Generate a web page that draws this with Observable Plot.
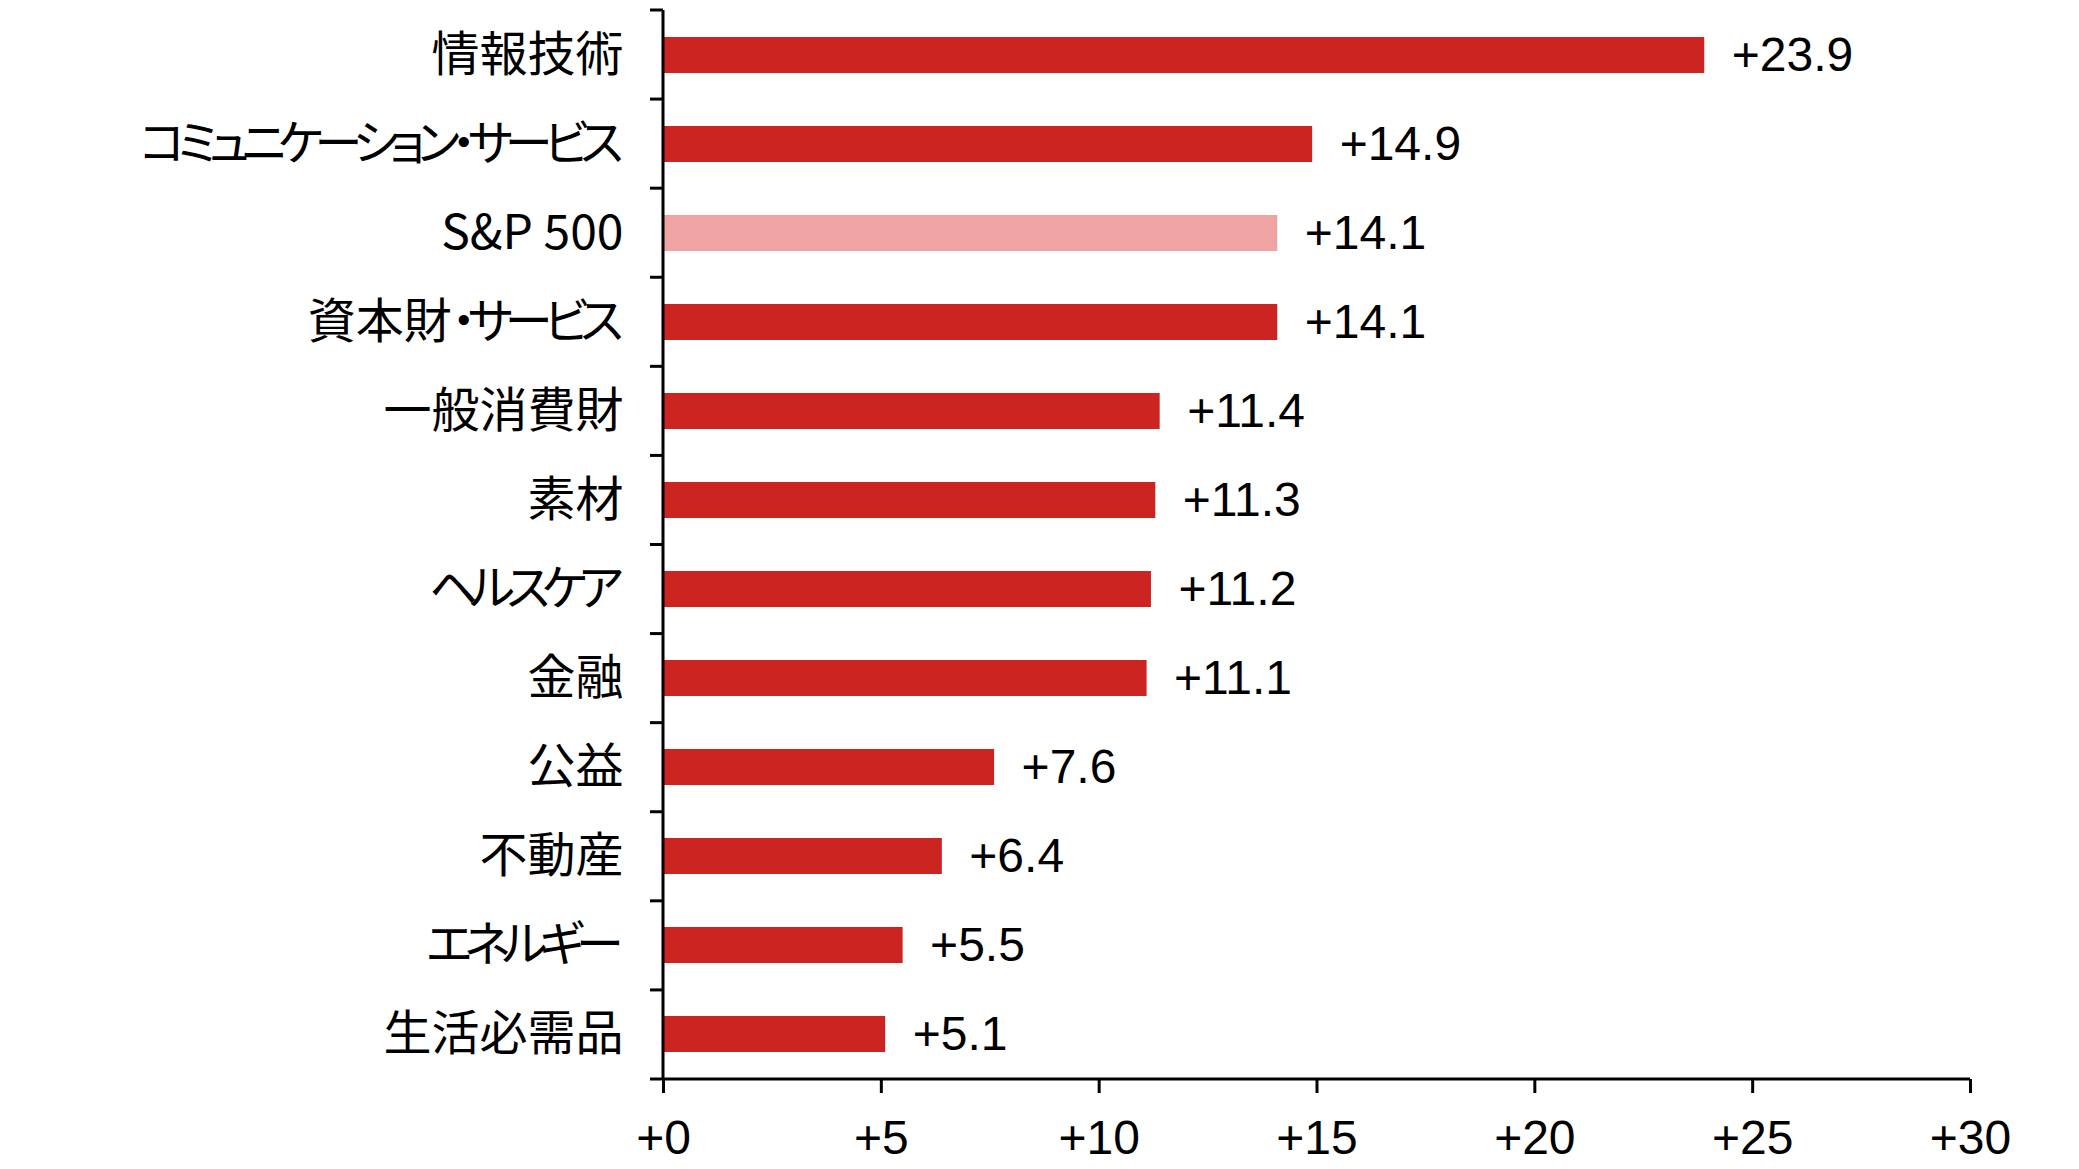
<!DOCTYPE html>
<html><head><meta charset="utf-8">
<script src="https://cdn.jsdelivr.net/npm/d3@7"></script>
<script src="https://cdn.jsdelivr.net/npm/@observablehq/plot@0.6"></script>
<style>
html,body{margin:0;padding:0;background:#fff;}
svg{display:block;}
.ylab text{font-feature-settings:"palt" 1;}
.ylab tspan.kana{letter-spacing:-8px;}
</style>
</head><body>
<div id="chart"></div>
<script>
const categories = ["情報技術","コミュニケーション・サービス","S&P 500","資本財・サービス","一般消費財","素材","ヘルスケア","金融","公益","不動産","エネルギー","生活必需品"];
const values = [23.9,14.9,14.1,14.1,11.4,11.3,11.2,11.1,7.6,6.4,5.5,5.1];
const highlight = ["S&P 500"];
const xTicks = [0,5,10,15,20,25,30];

const data = categories.map((c,i)=>({cat:c, value:values[i], hl: highlight.includes(c)}));
const fmt = v => "+" + v;

const boundaryTicks = (index, scales, values, dims) => {
  const g = d3.create("svg:g").attr("stroke","#000").attr("stroke-width",3).attr("fill","none");
  const top = dims.marginTop, bottom = dims.height - dims.marginBottom;
  const n = categories.length;
  const step = (bottom - top) / n;
  const x0 = scales.x(0);
  for (let i = 0; i < n; i++) {
    const y = top + i*step;
    g.append("line").attr("x1", x0-13).attr("x2", x0).attr("y1", y).attr("y2", y);
  }
  g.append("line").attr("x1", x0).attr("x2", x0).attr("y1", top).attr("y2", bottom);
  g.append("line").attr("x1", x0-13).attr("x2", scales.x(30)).attr("y1", bottom).attr("y2", bottom);
  return g.node();
};

const chart = Plot.plot({
  width: 2079,
  height: 1169,
  marginLeft: 663,
  marginRight: 109,
  marginTop: 10,
  marginBottom: 90,
  style: {fontFamily: "'Liberation Sans', 'Noto Sans CJK JP', sans-serif", background: "#fff", color: "#000"},
  x: {domain: [0,30], ticks: xTicks},
  y: {domain: categories, paddingInner: 0.6, paddingOuter: 0.3},
  marks: [
    Plot.barX(data, {y: "cat", x: "value", fill: d => d.hl ? "#EFA3A3" : "#CB2421"}),
    Plot.text(data, {y: "cat", x: "value", text: d => fmt(d.value), textAnchor: "start", dx: 27, fontSize: 48, fill: "#000"}),
    Plot.axisY({tickSize: 0, tickPadding: 40, fontSize: 48, fontFamily: "'Noto Sans CJK JP', sans-serif", label: null, className: "ylab"}),
    Plot.axisX({ticks: xTicks, tickFormat: fmt, tickSize: 14, strokeWidth: 3, tickPadding: 26, fontSize: 48, label: null}),
    boundaryTicks
  ]
});
document.getElementById("chart").appendChild(chart);

// tighten katakana runs to mimic the proportional kana of the original font
d3.select(chart).selectAll("g.ylab text").each(function() {
  const t = d3.select(this);
  const s = t.text();
  if (!/[\u30A0-\u30FF]/.test(s)) return;
  const body = s.slice(0, -1), last = s.slice(-1);
  const runs = body.match(/[\u30A0-\u30FF]+|[^\u30A0-\u30FF]+/g) || [];
  t.text(null);
  runs.forEach(r => {
    t.append("tspan").attr("class", /[\u30A0-\u30FF]/.test(r) ? "kana" : null).text(r);
  });
  t.append("tspan").text(last);
});
</script>
</body></html>
